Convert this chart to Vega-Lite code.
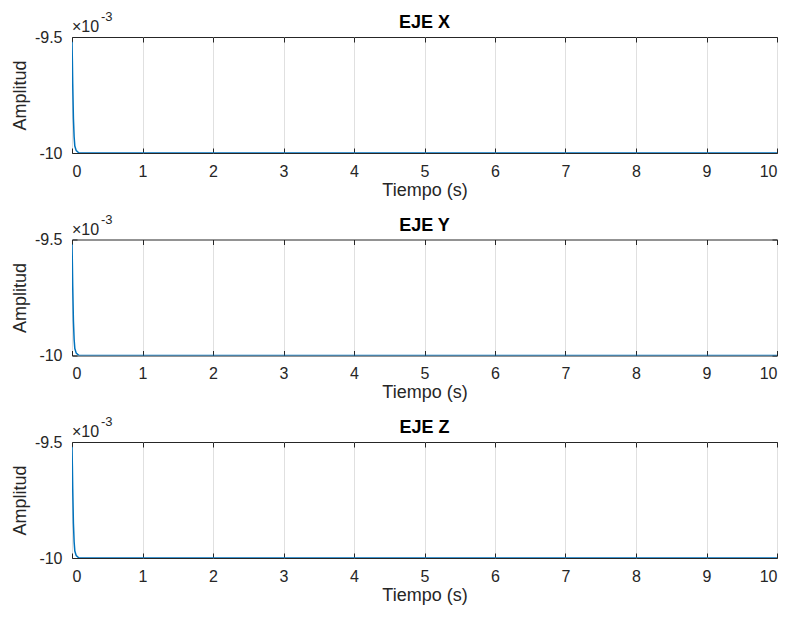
{
  "$schema": "https://vega.github.io/schema/vega-lite/v6.json",
  "padding": {"left": 10, "top": 10, "right": 12, "bottom": 2},
  "spacing": 12.5,
  "config": {
    "font": "Liberation Sans",
    "view": {"stroke": "#262626", "strokeWidth": 1},
    "axis": {
      "labelFont": "Liberation Sans",
      "titleFont": "Liberation Sans",
      "labelFontSize": 16,
      "titleFontSize": 18,
      "titleFontWeight": "normal",
      "labelColor": "#262626",
      "titleColor": "#262626",
      "tickColor": "#262626",
      "domain": false,
      "tickSize": -5
    },
    "title": {"font": "Liberation Sans", "fontSize": 18, "fontWeight": "bold", "color": "#000000", "offset": -21}
  },
  "datasets": {
    "senal": [
      {"eje": "X", "tiempo": 0, "amplitud": -0.00952},
      {"eje": "X", "tiempo": 0.005, "amplitud": -0.0096},
      {"eje": "X", "tiempo": 0.01, "amplitud": -0.0097},
      {"eje": "X", "tiempo": 0.02, "amplitud": -0.00985},
      {"eje": "X", "tiempo": 0.03, "amplitud": -0.00993},
      {"eje": "X", "tiempo": 0.04, "amplitud": -0.00997},
      {"eje": "X", "tiempo": 0.06, "amplitud": -0.00999},
      {"eje": "X", "tiempo": 0.1, "amplitud": -0.01},
      {"eje": "X", "tiempo": 10, "amplitud": -0.01},
      {"eje": "Y", "tiempo": 0, "amplitud": -0.00952},
      {"eje": "Y", "tiempo": 0.005, "amplitud": -0.0096},
      {"eje": "Y", "tiempo": 0.01, "amplitud": -0.0097},
      {"eje": "Y", "tiempo": 0.02, "amplitud": -0.00985},
      {"eje": "Y", "tiempo": 0.03, "amplitud": -0.00993},
      {"eje": "Y", "tiempo": 0.04, "amplitud": -0.00997},
      {"eje": "Y", "tiempo": 0.06, "amplitud": -0.00999},
      {"eje": "Y", "tiempo": 0.1, "amplitud": -0.01},
      {"eje": "Y", "tiempo": 10, "amplitud": -0.01},
      {"eje": "Z", "tiempo": 0, "amplitud": -0.00952},
      {"eje": "Z", "tiempo": 0.005, "amplitud": -0.0096},
      {"eje": "Z", "tiempo": 0.01, "amplitud": -0.0097},
      {"eje": "Z", "tiempo": 0.02, "amplitud": -0.00985},
      {"eje": "Z", "tiempo": 0.03, "amplitud": -0.00993},
      {"eje": "Z", "tiempo": 0.04, "amplitud": -0.00997},
      {"eje": "Z", "tiempo": 0.06, "amplitud": -0.00999},
      {"eje": "Z", "tiempo": 0.1, "amplitud": -0.01},
      {"eje": "Z", "tiempo": 10, "amplitud": -0.01}
    ],
    "base": [{"texto": "×10"}],
    "exponente": [{"texto": "-3"}]
  },
  "vconcat": [
    {
      "title": {"text": "EJE X"},
      "width": 705, "height": 116,
      "resolve": {"axis": {"x": "independent", "y": "independent"}},
      "layer": [
        {
          "data": {"name": "senal"},
          "transform": [{"filter": "datum.eje == 'X'"}],
          "mark": {"type": "line", "color": "#0072BD", "strokeWidth": 1.5, "clip": true},
          "encoding": {
            "x": {"field": "tiempo", "type": "quantitative", "scale": {"domain": [0, 10], "nice": false},
              "axis": {"title": "Tiempo (s)", "values": [0,1,2,3,4,5,6,7,8,9,10], "grid": true, "gridColor": "#e0e0e0", "labelPadding": 15, "titlePadding": 2}},
            "y": {"field": "amplitud", "type": "quantitative", "scale": {"domain": [-0.01, -0.0095], "nice": false, "zero": false},
              "axis": {"title": "Amplitud", "values": [-0.01, -0.0095], "grid": false, "labelExpr": "replace(format(datum.value*1000, '~g'), '−', '-')", "labelPadding": 15, "titlePadding": 5}}
          }
        },
        {
          "data": {"name": "base"},
          "mark": {"type": "text", "align": "left", "baseline": "alphabetic", "dy": -5, "dx": 0, "fontSize": 16, "color": "#262626"},
          "encoding": {
            "x": {"datum": 0, "type": "quantitative", "scale": {"domain": [0, 10], "nice": false},
              "axis": {"orient": "top", "values": [0,1,2,3,4,5,6,7,8,9,10], "labels": false, "grid": false, "title": null}},
            "y": {"datum": -0.0095, "type": "quantitative", "scale": {"domain": [-0.01, -0.0095], "nice": false, "zero": false},
              "axis": {"orient": "right", "values": [-0.01, -0.0095], "labels": false, "grid": false, "title": null}},
            "text": {"field": "texto"}
          }
        },
        {
          "data": {"name": "exponente"},
          "mark": {"type": "text", "align": "left", "baseline": "alphabetic", "dy": -16, "dx": 29, "fontSize": 13, "color": "#262626"},
          "encoding": {
            "x": {"datum": 0, "type": "quantitative", "axis": null},
            "y": {"datum": -0.0095, "type": "quantitative", "axis": null},
            "text": {"field": "texto"}
          }
        }
      ]
    },
    {
      "title": {"text": "EJE Y"},
      "width": 705, "height": 116,
      "resolve": {"axis": {"x": "independent", "y": "independent"}},
      "layer": [
        {
          "data": {"name": "senal"},
          "transform": [{"filter": "datum.eje == 'Y'"}],
          "mark": {"type": "line", "color": "#0072BD", "strokeWidth": 1.5, "clip": true},
          "encoding": {
            "x": {"field": "tiempo", "type": "quantitative", "scale": {"domain": [0, 10], "nice": false},
              "axis": {"title": "Tiempo (s)", "values": [0,1,2,3,4,5,6,7,8,9,10], "grid": true, "gridColor": "#e0e0e0", "labelPadding": 15, "titlePadding": 2}},
            "y": {"field": "amplitud", "type": "quantitative", "scale": {"domain": [-0.01, -0.0095], "nice": false, "zero": false},
              "axis": {"title": "Amplitud", "values": [-0.01, -0.0095], "grid": false, "labelExpr": "replace(format(datum.value*1000, '~g'), '−', '-')", "labelPadding": 15, "titlePadding": 5}}
          }
        },
        {
          "data": {"name": "base"},
          "mark": {"type": "text", "align": "left", "baseline": "alphabetic", "dy": -5, "dx": 0, "fontSize": 16, "color": "#262626"},
          "encoding": {
            "x": {"datum": 0, "type": "quantitative", "scale": {"domain": [0, 10], "nice": false},
              "axis": {"orient": "top", "values": [0,1,2,3,4,5,6,7,8,9,10], "labels": false, "grid": false, "title": null}},
            "y": {"datum": -0.0095, "type": "quantitative", "scale": {"domain": [-0.01, -0.0095], "nice": false, "zero": false},
              "axis": {"orient": "right", "values": [-0.01, -0.0095], "labels": false, "grid": false, "title": null}},
            "text": {"field": "texto"}
          }
        },
        {
          "data": {"name": "exponente"},
          "mark": {"type": "text", "align": "left", "baseline": "alphabetic", "dy": -16, "dx": 29, "fontSize": 13, "color": "#262626"},
          "encoding": {
            "x": {"datum": 0, "type": "quantitative", "axis": null},
            "y": {"datum": -0.0095, "type": "quantitative", "axis": null},
            "text": {"field": "texto"}
          }
        }
      ]
    },
    {
      "title": {"text": "EJE Z"},
      "width": 705, "height": 116,
      "resolve": {"axis": {"x": "independent", "y": "independent"}},
      "layer": [
        {
          "data": {"name": "senal"},
          "transform": [{"filter": "datum.eje == 'Z'"}],
          "mark": {"type": "line", "color": "#0072BD", "strokeWidth": 1.5, "clip": true},
          "encoding": {
            "x": {"field": "tiempo", "type": "quantitative", "scale": {"domain": [0, 10], "nice": false},
              "axis": {"title": "Tiempo (s)", "values": [0,1,2,3,4,5,6,7,8,9,10], "grid": true, "gridColor": "#e0e0e0", "labelPadding": 15, "titlePadding": 2}},
            "y": {"field": "amplitud", "type": "quantitative", "scale": {"domain": [-0.01, -0.0095], "nice": false, "zero": false},
              "axis": {"title": "Amplitud", "values": [-0.01, -0.0095], "grid": false, "labelExpr": "replace(format(datum.value*1000, '~g'), '−', '-')", "labelPadding": 15, "titlePadding": 5}}
          }
        },
        {
          "data": {"name": "base"},
          "mark": {"type": "text", "align": "left", "baseline": "alphabetic", "dy": -5, "dx": 0, "fontSize": 16, "color": "#262626"},
          "encoding": {
            "x": {"datum": 0, "type": "quantitative", "scale": {"domain": [0, 10], "nice": false},
              "axis": {"orient": "top", "values": [0,1,2,3,4,5,6,7,8,9,10], "labels": false, "grid": false, "title": null}},
            "y": {"datum": -0.0095, "type": "quantitative", "scale": {"domain": [-0.01, -0.0095], "nice": false, "zero": false},
              "axis": {"orient": "right", "values": [-0.01, -0.0095], "labels": false, "grid": false, "title": null}},
            "text": {"field": "texto"}
          }
        },
        {
          "data": {"name": "exponente"},
          "mark": {"type": "text", "align": "left", "baseline": "alphabetic", "dy": -16, "dx": 29, "fontSize": 13, "color": "#262626"},
          "encoding": {
            "x": {"datum": 0, "type": "quantitative", "axis": null},
            "y": {"datum": -0.0095, "type": "quantitative", "axis": null},
            "text": {"field": "texto"}
          }
        }
      ]
    }
  ]
}
